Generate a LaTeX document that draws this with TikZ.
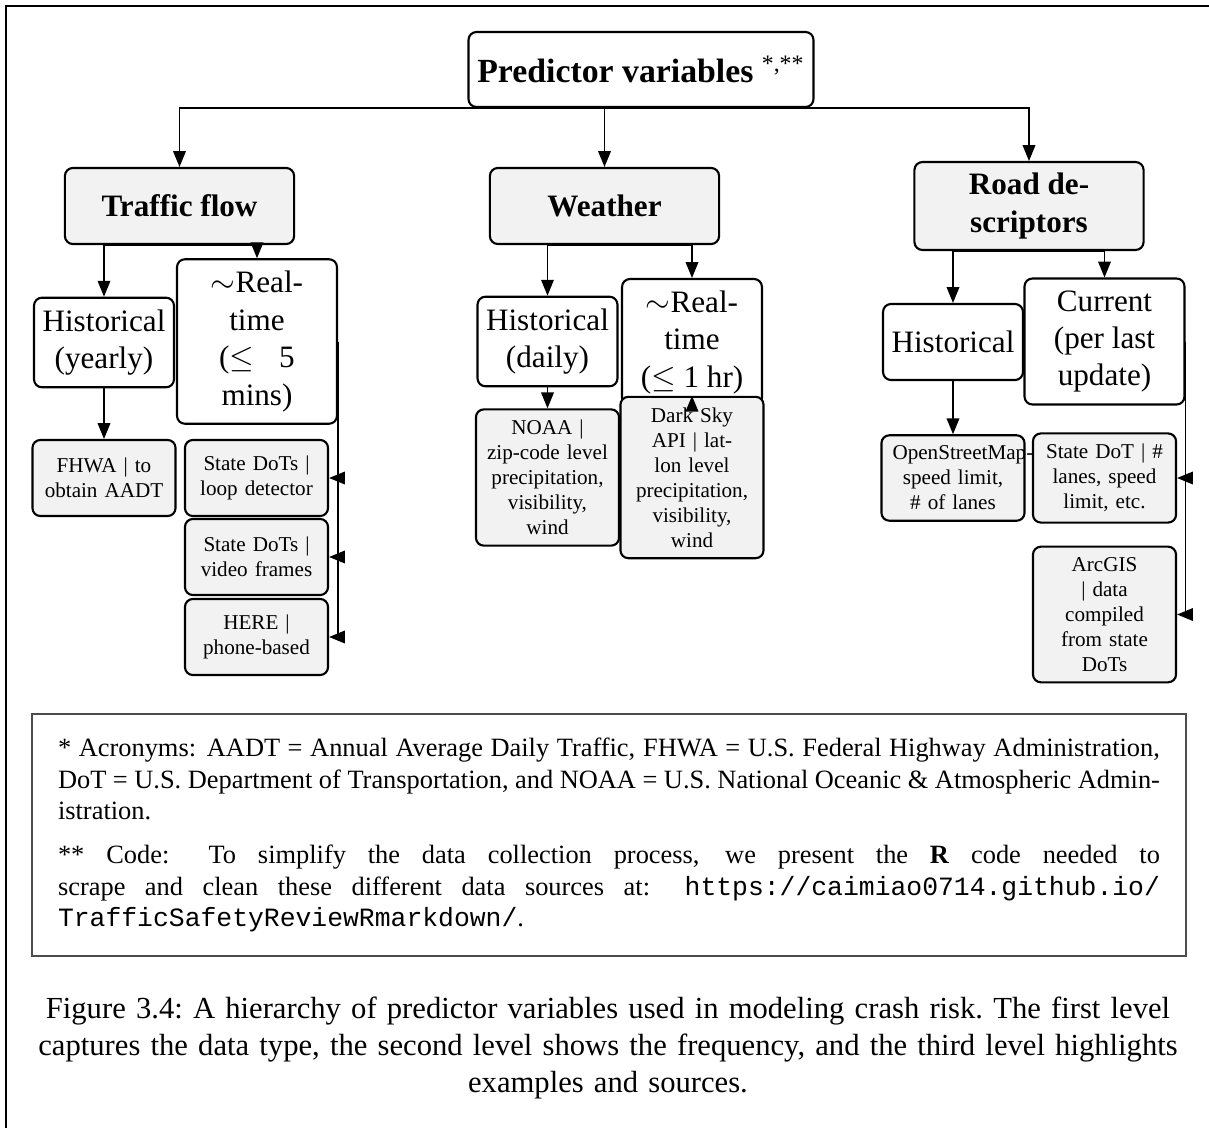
\documentclass[tikz,border=0pt]{standalone}
\usepackage{fontspec}
\setmainfont{Liberation Serif}
\setmonofont{Liberation Mono}
\usetikzlibrary{arrows.meta}
\tikzset{
    rootbox/.style={draw,thick,rounded corners=3pt,fill=white,minimum width=130.3pt,minimum height=28.4pt,font=\fontsize{12.8}{15}\selectfont},
    typebox/.style={draw,thick,rounded corners=3pt,fill=gray!10,minimum width=86.8pt,minimum height=28.8pt,inner ysep=4.2pt,align=center,font=\fontsize{11.8}{14.2}\selectfont\bfseries},
    freqbox/.style={draw,thick,rounded corners=3pt,fill=white,minimum width=53pt,minimum height=28.8pt,inner xsep=2.8pt,inner ysep=4.5pt,align=center,font=\fontsize{11.8}{14.2}\selectfont},
    srcbox/.style={draw,thick,rounded corners=3pt,fill=gray!10,text width=45.8pt,inner xsep=4.2pt,inner ysep=4pt,minimum height=28.8pt,align=center,font=\fontsize{8}{9.5}\selectfont},
    link/.style={-{Triangle[length=6pt,width=4.8pt]},line width=0.5pt},
}

\begin{document}
\begin{tikzpicture}[x=0.3788pt,y=-0.3788pt]
\useasboundingbox (0,0) rectangle (1209,1128);
\draw[line width=0.6pt] (6,1128) -- (6,6) -- (1209,6);
% first level
\node[rootbox] (root) at (641,69.5) {\textbf{Predictor variables} \textsuperscript{*,**}};
\node[typebox] (tflow) at (179.5,206) {Traffic flow};
\node[typebox] (weather) at (604.5,206) {Weather};
\node[typebox] (road) at (1029,206) {Road de-\\scriptors};
% second level
\node[freqbox] (tfhist) at (104,342.5) {Historical\\(yearly)};
\node[freqbox,minimum width=60.6pt] (tfreal) at (257,341.5) {$\sim$Real-\\time\\($\leq$\hspace{0.8em}5\\mins)};
\node[freqbox] (wxhist) at (547.5,341.5) {Historical\\(daily)};
\node[freqbox] (wxreal) at (692,342.5) {$\sim$Real-\\time\\($\leq$ 1 hr)};
\node[freqbox] (rdhist) at (953,342) {Historical};
\node[freqbox,minimum width=60.6pt] (rdcur) at (1104.5,341.5) {Current\\(per last\\update)};
% third level
\node[srcbox] (fhwa) at (104,478) {FHWA | to\\obtain AADT};
\node[srcbox] (loop) at (256.5,478) {State DoTs |\\loop detector};
\node[srcbox] (video) at (256.5,557) {State DoTs |\\video frames};
\node[srcbox] (here) at (256.5,637) {HERE |\\phone-based};
\node[srcbox] (noaa) at (547.5,477.5) {NOAA |\\zip-code level\\precipitation,\\visibility,\\wind};
\node[srcbox] (darksky) at (692,477.5) {Dark Sky\\API | lat-\\lon level\\precipitation,\\visibility,\\wind};
\node[srcbox] (osm) at (953,478) {\mbox{OpenStreetMap-}\\speed limit,\\\# of lanes};
\node[srcbox] (statedot) at (1104.5,478) {State DoT | \#\\lanes, speed\\limit, etc.};
\node[srcbox] (arcgis) at (1104.5,614.5) {ArcGIS\\| data\\compiled\\from state\\DoTs};
% connectors
\foreach \a/\b in {root/tflow,root/weather,root/road,tflow/tfhist,tflow/tfreal,weather/wxhist,weather/wxreal,road/rdhist,road/rdcur,tfhist/fhwa,wxhist/noaa,wxreal/darksky,rdhist/osm}
    \draw[link] (\a.south) -| (\b.north);
\foreach \b in {loop,video,here}
    \draw[link] (tfreal.east) |- (\b.east);
\foreach \b in {statedot,arcgis}
    \draw[link] (rdcur.east) |- (\b.east);
% notes and caption
\node[draw=black!70,line width=0.5pt,minimum width=437.1pt,minimum height=91.7pt,text width=417.4pt,align=justify,font=\fontsize{10}{12}\selectfont] (notes) at (609,835)
    {* Acronyms: AADT = Annual Average Daily Traffic, FHWA = U.S.\ Federal Highway Administration,\linebreak
     DoT = U.S.\ Department of Transportation, and NOAA = U.S.\ National Oceanic \& Atmospheric Admin-\linebreak
     istration.\par\vspace{4.5pt}
     ** Code: To simplify the data collection process, we present the \textbf{R} code needed to\linebreak
     scrape and clean these different data sources at: \texttt{https://caimiao0714.github.io/}\linebreak
     \texttt{TrafficSafetyReviewRmarkdown/}.};
\node[anchor=north,inner sep=0pt,text width=470pt,align=center,font=\fontsize{11.6}{14.1}\selectfont\frenchspacing] (caption) at (608,996)
    {Figure 3.4: A hierarchy of predictor variables used in modeling crash risk. The first level\\
     captures the data type, the second level shows the frequency, and the third level highlights\\
     examples and sources.};
\end{tikzpicture}
\end{document}
